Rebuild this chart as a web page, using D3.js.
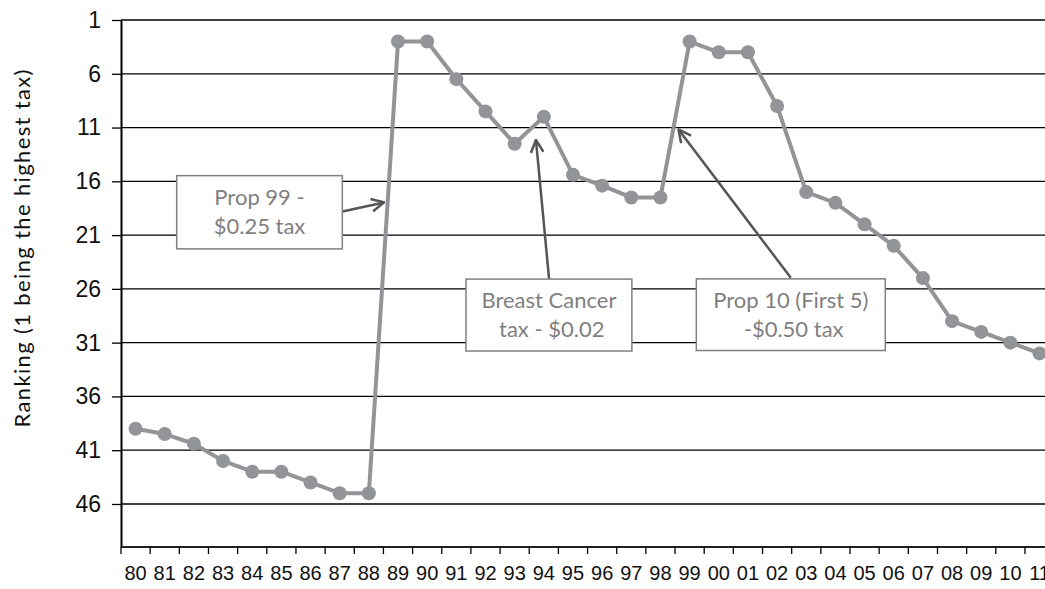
<!DOCTYPE html>
<html>
<head>
<meta charset="utf-8">
<script src="https://cdn.jsdelivr.net/npm/d3@7"></script>
<style>
  body { margin: 0; background: #fff; }
  svg { display: block; font-family: Lato, 'Liberation Sans', sans-serif; }
</style>
</head>
<body>
<div id="chart"></div>
<script>
// years (two digit labels) and state tax ranking
const years = ['80','81','82','83','84','85','86','87','88','89','90','91','92','93','94','95',
               '96','97','98','99','00','01','02','03','04','05','06','07','08','09','10','11'];
const ranking = [39, 39.5, 40.4, 42, 43, 43, 44, 45, 45, 3, 3, 6.5, 9.5, 12.5, 10, 15.4,
                 16.4, 17.5, 17.5, 3, 4, 4, 9, 17, 18, 20, 22, 25, 29, 30, 31, 32];
const yTicks = [1, 6, 11, 16, 21, 26, 31, 36, 41, 46];

// annotation boxes, in (category index, rank) units
const notes = [
  {lines: ['Prop 99 -', '$0.25 tax'], x0: 1.91, x1: 7.59, y0: 15.47, y1: 22.28,
   from: [7.59, 18.81], to: [9.02, 17.96]},
  {lines: ['Breast Cancer', ' tax - $0.02'], x0: 11.83, x1: 17.52, y0: 25.09, y1: 31.78,
   from: [14.68, 25.07], to: [14.23, 12.15]},
  {lines: ['Prop 10 (First 5)', ' -$0.50 tax'], x0: 19.73, x1: 26.21, y0: 25.07, y1: 31.73,
   from: [22.97, 24.97], to: [19.12, 11.18]}
];

const W = 1045, H = 589;
const plotL = 121, plotT = 20, plotB = 547;
const step = 29.16;
const plotR = plotL + step * years.length;

const svg = d3.select('#chart').append('svg')
  .attr('width', W).attr('height', H);

const x = d3.scaleBand().domain(years).range([plotL, plotR]).padding(0);
const xi = d3.scaleLinear().domain([0, years.length]).range([plotL, plotR]);
const y = d3.scaleLinear().domain([1, 50]).range([plotT, plotB]);

// gridlines
svg.append('g')
  .selectAll('line')
  .data(yTicks)
  .join('line')
  .attr('x1', plotL).attr('x2', plotR)
  .attr('y1', d => y(d)).attr('y2', d => y(d))
  .attr('stroke', '#000').attr('stroke-width', 1.3);

// y axis
const yAxis = svg.append('g')
  .attr('transform', `translate(${plotL},0)`)
  .call(d3.axisLeft(y).tickValues(yTicks).tickSize(9).tickPadding(11).tickSizeOuter(0));
yAxis.select('.domain').attr('stroke', '#000').attr('stroke-width', 2);
yAxis.selectAll('.tick line').attr('stroke', '#000').attr('stroke-width', 1.3);
yAxis.selectAll('.tick text').style('font-size', '23px').attr('fill', '#111');

// x axis: labels centered in bands, ticks at band edges
const xAxis = svg.append('g')
  .attr('transform', `translate(0,${plotB})`)
  .call(d3.axisBottom(x).tickSize(0).tickPadding(19).tickSizeOuter(0));
xAxis.select('.domain').remove();
xAxis.selectAll('.tick text').style('font-size', '20px').attr('fill', '#111');

svg.append('line')
  .attr('x1', plotL).attr('x2', plotR)
  .attr('y1', plotB).attr('y2', plotB)
  .attr('stroke', '#222').attr('stroke-width', 2.2);

svg.append('g')
  .selectAll('line')
  .data(d3.range(years.length + 1))
  .join('line')
  .attr('x1', d => xi(d)).attr('x2', d => xi(d))
  .attr('y1', plotB).attr('y2', plotB + 7)
  .attr('stroke', '#000').attr('stroke-width', 1.3);

// y title
svg.append('text')
  .attr('transform', `translate(30,${(plotT + plotB) / 2 - 35}) rotate(-90)`)
  .attr('text-anchor', 'middle')
  .attr('textLength', 358)
  .attr('lengthAdjust', 'spacing')
  .style('font-size', '22px')
  .attr('fill', '#111')
  .text('Ranking (1 being the highest tax)');

// line + points
const lineColor = '#939498';
const line = d3.line()
  .x((d, i) => x(years[i]) + x.bandwidth() / 2)
  .y(d => y(d));

svg.append('path')
  .datum(ranking)
  .attr('fill', 'none')
  .attr('stroke', lineColor)
  .attr('stroke-width', 4)
  .attr('stroke-linejoin', 'round')
  .attr('d', line);

svg.append('g')
  .selectAll('circle')
  .data(ranking)
  .join('circle')
  .attr('cx', (d, i) => x(years[i]) + x.bandwidth() / 2)
  .attr('cy', d => y(d))
  .attr('r', 7)
  .attr('fill', lineColor);

// arrows
svg.append('defs').append('marker')
  .attr('id', 'head')
  .attr('viewBox', '0 0 12 12')
  .attr('refX', 11).attr('refY', 6)
  .attr('markerWidth', 6).attr('markerHeight', 6)
  .attr('markerUnits', 'strokeWidth')
  .attr('orient', 'auto')
  .append('path')
  .attr('d', 'M1,1 L11,6 L1,11')
  .attr('fill', 'none')
  .attr('stroke', '#555')
  .attr('stroke-width', 2);

svg.append('g')
  .selectAll('line')
  .data(notes)
  .join('line')
  .attr('x1', d => xi(d.from[0])).attr('y1', d => y(d.from[1]))
  .attr('x2', d => xi(d.to[0])).attr('y2', d => y(d.to[1]))
  .attr('stroke', '#555')
  .attr('stroke-width', 2.5)
  .attr('marker-end', 'url(#head)');

// boxes
const box = svg.append('g')
  .selectAll('g')
  .data(notes)
  .join('g');

box.append('rect')
  .attr('x', d => xi(d.x0)).attr('y', d => y(d.y0))
  .attr('width', d => xi(d.x1) - xi(d.x0))
  .attr('height', d => y(d.y1) - y(d.y0))
  .attr('fill', '#fff')
  .attr('stroke', '#808080')
  .attr('stroke-width', 1.5);

box.each(function(d) {
  const cx = (xi(d.x0) + xi(d.x1)) / 2;
  const cy = (y(d.y0) + y(d.y1)) / 2;
  d3.select(this).selectAll('text')
    .data(d.lines)
    .join('text')
    .attr('x', cx)
    .attr('y', (t, i) => cy + (i - 0.5) * 29)
    .attr('dy', '0.35em')
    .attr('text-anchor', 'middle')
    .attr('xml:space', 'preserve')
    .style('font-size', '22px')
    .attr('fill', '#7f7f7f')
    .text(t => t);
});
</script>
</body>
</html>
